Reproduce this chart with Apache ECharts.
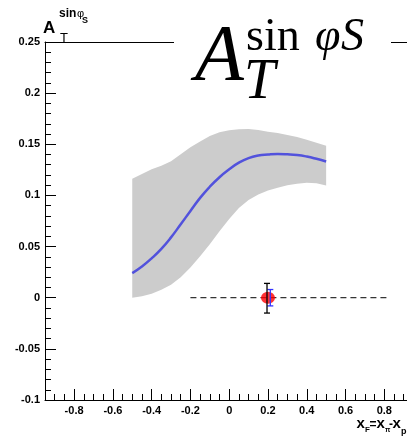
<!DOCTYPE html>
<html><head><meta charset="utf-8">
<script src="https://cdn.jsdelivr.net/npm/echarts@6/dist/echarts.min.js"></script>
<style>html,body{margin:0;padding:0;background:#fff}#c{width:407px;height:437px}</style>
</head><body><div id="c"></div>
<script>
const bandX = [-0.5,-0.45,-0.4,-0.35,-0.3,-0.25,-0.2,-0.15,-0.1,-0.05,0,0.05,0.1,0.15,0.2,0.25,0.3,0.35,0.4,0.45,0.5];
const bandUpper = [0.1164,0.1210,0.1255,0.1290,0.1335,0.1403,0.1470,0.1528,0.1580,0.1618,0.1636,0.1646,0.1650,0.1640,0.1623,0.1611,0.1590,0.1571,0.1545,0.1516,0.1486];
const bandLower = [0.0000,0.0015,0.0038,0.0078,0.0127,0.0200,0.0295,0.0405,0.0522,0.0650,0.0770,0.0878,0.0955,0.1010,0.1047,0.1075,0.1100,0.1115,0.1123,0.1120,0.1098];
const curveY = [0.0241,0.0305,0.0385,0.0478,0.0590,0.0718,0.0848,0.0976,0.1085,0.1178,0.1255,0.1320,0.1365,0.1390,0.1400,0.1405,0.1402,0.1395,0.1380,0.1358,0.1332];
const zeroLineX = [-0.2, 0.83];
const pointX = [0.2];
const pointY = [0.0];
const errBlack = [[0.195, 0.0, -0.015, 0.014]];
const errBlue = [[0.212, 0.0, -0.008, 0.008]];
const xMajorTicks = [-0.8,-0.6,-0.4,-0.2,0,0.2,0.4,0.6,0.8];
const xMinorTicks = [-0.95,-0.9,-0.85,-0.75,-0.7,-0.65,-0.55,-0.5,-0.45,-0.35,-0.3,-0.25,-0.15,-0.1,-0.05,0.05,0.1,0.15,0.25,0.3,0.35,0.45,0.5,0.55,0.65,0.7,0.75,0.85,0.9];

const X_MIN = -0.95, X_MAX = 0.917;
const chart = echarts.init(document.getElementById('c'));
const lblFont = {fontFamily:'Liberation Sans', fontWeight:'bold', fontSize:11, color:'#000'};

function errRender(color){
  return function(params, api){
    const x = api.value(0), lo = api.value(2), hi = api.value(3);
    const a = api.coord([x, hi]), b = api.coord([x, lo]);
    const st = {stroke: color, lineWidth: 1.3};
    return {type:'group', children:[
      {type:'line', shape:{x1:a[0],y1:a[1],x2:b[0],y2:b[1]}, style:st},
      {type:'line', shape:{x1:a[0]-3,y1:a[1],x2:a[0]+3,y2:a[1]}, style:st},
      {type:'line', shape:{x1:b[0]-3,y1:b[1],x2:b[0]+3,y2:b[1]}, style:st}
    ]};
  };
}
function bandRender(params, api){
  if (params.dataIndex !== 0) return null;
  const pts = [];
  for (let i = 0; i < bandX.length; i++) pts.push(api.coord([bandX[i], bandUpper[i]]));
  for (let i = bandX.length - 1; i >= 0; i--) pts.push(api.coord([bandX[i], bandLower[i]]));
  return {type:'polygon', shape:{points:pts}, style:{fill:'#cccccc', stroke:'none'}};
}

// text placed by its top: top = baseline - 0.80*fontSize
function txt(s, x, baseline, fs, font){
  return {type:'text', x:x, y:baseline - 0.80*fs, z:101, silent:true,
    style:{text:s, font:font.replace('FS', fs + 'px'), fill:'#000', verticalAlign:'top'}};
}

const option = {
  animation:false,
  grid:{left:45,right:0,top:42,bottom:37},
  xAxis:[
    {type:'value', min:X_MIN, max:X_MAX, position:'bottom',
     axisLine:{show:true,onZero:false,lineStyle:{color:'#000',width:1}},
     axisTick:{show:true,inside:true,length:11,customValues:xMajorTicks,lineStyle:{color:'#000'}},
     axisLabel:Object.assign({show:true,margin:5,customValues:xMajorTicks,formatter:v=>String(+v.toFixed(2))},lblFont),
     splitLine:{show:false}},
    {type:'value', min:X_MIN, max:X_MAX, position:'bottom',
     axisLine:{show:false,onZero:false},
     axisTick:{show:true,inside:true,length:6,customValues:xMinorTicks,lineStyle:{color:'#000'}},
     axisLabel:{show:false}, splitLine:{show:false}},
    {type:'value', min:X_MIN, max:X_MAX, position:'top',
     axisLine:{show:true,onZero:false,lineStyle:{color:'#000',width:1}},
     axisTick:{show:false}, axisLabel:{show:false}, splitLine:{show:false}}
  ],
  yAxis:{type:'value', min:-0.1, max:0.25, interval:0.05,
    axisLine:{show:true,onZero:false,lineStyle:{color:'#000',width:1}},
    axisTick:{show:true,inside:true,length:11,lineStyle:{color:'#000'}},
    minorTick:{show:true,splitNumber:5,length:6,lineStyle:{color:'#000'}},
    axisLabel:Object.assign({margin:5,formatter:v=>String(+v.toFixed(2))},lblFont),
    splitLine:{show:false}},
  series:[
    {type:'custom', name:'band', data:bandX.map((x,i)=>[x,bandLower[i],bandUpper[i]]), encode:{x:0,y:[1,2]},
     renderItem:bandRender, silent:true, z:1},
    {type:'line', name:'curve', data:bandX.map((x,i)=>[x,curveY[i]]), smooth:0.5, symbol:'none',
     lineStyle:{color:'#5252dc',width:2.5}, z:3},
    {type:'line', name:'zero', data:zeroLineX.map(x=>[x,0]), symbol:'none',
     lineStyle:{color:'#000',width:1,type:[6,4]}, z:3},
    {type:'scatter', name:'pt', data:pointX.map((x,i)=>[x,pointY[i]]), symbol:'circle', symbolSize:[14,12],
     itemStyle:{color:'#ff0000'}, z:4},
    {type:'custom', name:'errBlue', data:errBlue, encode:{x:0,y:[1,2,3]}, renderItem:errRender('#3333ff'), z:5},
    {type:'custom', name:'errBlack', data:errBlack, encode:{x:0,y:[1,2,3]}, renderItem:errRender('#000000'), z:6}
  ],
  graphic:[
    {type:'rect', shape:{x:174,y:36,width:217,height:10}, style:{fill:'#fff'}, z:100, silent:true},
    txt('A', 195, 83, 80, 'italic FS "Liberation Serif"'),
    txt('T', 244, 100, 56, 'italic FS "Liberation Serif"'),
    txt('sin', 246, 52, 46, 'FS "Liberation Serif"'),
    txt('\u03C6', 315, 52, 46, 'italic FS "Liberation Serif"'),
    txt('S', 341, 52, 46, 'italic FS "Liberation Serif"'),
    txt('A', 43, 33.5, 17, 'bold FS "Liberation Sans"'),
    txt('T', 60, 42, 13, 'FS "Liberation Sans"'),
    txt('sin', 59, 17.5, 12, 'bold FS "Liberation Sans"'),
    txt('\u03C6', 77, 17.5, 11, 'FS "Liberation Sans"'),
    txt('S', 82, 23.5, 9, 'bold FS "Liberation Sans"'),
    txt('x', 356.5, 428.5, 15, 'bold FS "Liberation Sans"'),
    txt('F', 365, 432, 8, 'bold FS "Liberation Sans"'),
    txt('=', 369.5, 428.5, 12, 'bold FS "Liberation Sans"'),
    txt('x', 376.5, 428.5, 15, 'bold FS "Liberation Sans"'),
    txt('\u03C0', 385, 432, 7, 'bold FS "Liberation Sans"'),
    txt('-', 389, 428.5, 12, 'bold FS "Liberation Sans"'),
    txt('x', 392.5, 428.5, 15, 'bold FS "Liberation Sans"'),
    txt('p', 401, 434, 9, 'bold FS "Liberation Sans"')
  ]
};
chart.setOption(option);
</script></body></html>
